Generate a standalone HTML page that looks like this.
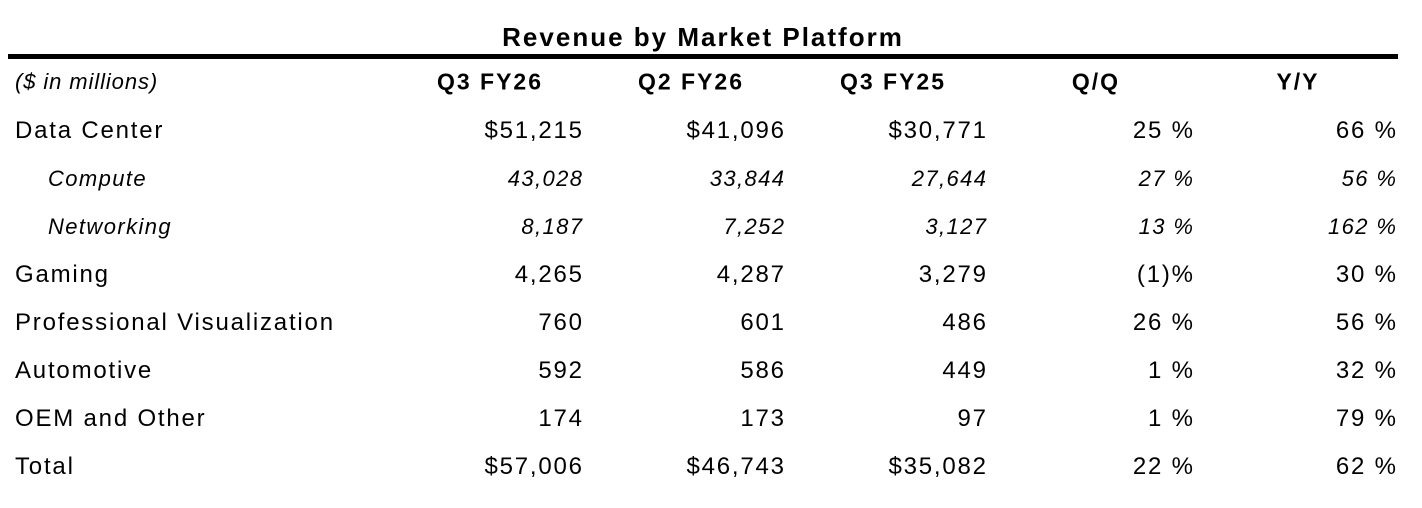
<!DOCTYPE html>
<html><head><meta charset="utf-8"><style>
body{margin:0;width:1422px;height:508px;background:#fff;font-family:"Liberation Sans",sans-serif;color:#000;position:relative;overflow:hidden}
.t{position:absolute;white-space:nowrap;line-height:1;transform:translateY(-50%)}
.r{text-align:right}
.c{text-align:center}
</style></head><body>
<div class="t c" style="left:0;width:1406px;top:37px;font-size:26px;font-weight:bold;letter-spacing:2px">Revenue by Market Platform</div>
<div style="position:absolute;left:8px;top:54px;width:1390px;height:5px;background:#000"></div>
<div id="tbl"></div>
<script>
const rowLabels=["Data Center","Compute","Networking","Gaming","Professional Visualization","Automotive","OEM and Other","Total"];
const q3fy26=["$51,215","43,028","8,187","4,265","760","592","174","$57,006"];
const q2fy26=["$41,096","33,844","7,252","4,287","601","586","173","$46,743"];
const q3fy25=["$30,771","27,644","3,127","3,279","486","449","97","$35,082"];
const qq=["25 %","27 %","13 %","(1)%","26 %","1 %","1 %","22 %"];
const yy=["66 %","56 %","162 %","30 %","56 %","32 %","79 %","62 %"];
const headers=["Q3 FY26","Q2 FY26","Q3 FY25","Q/Q","Y/Y"];
const sub=[false,true,true,false,false,false,false,false];
const colRight=[582,784,986,1193,1396];
const colCenter=[489,690,892,1095,1297];
const tbl=document.getElementById('tbl');
function mk(txt,style,cls){const d=document.createElement('div');d.className='t '+cls;d.textContent=txt;d.setAttribute('style',style);tbl.appendChild(d);return d;}
let u=mk("($ in millions)","left:15px;top:82px;font-size:22px;font-style:italic;letter-spacing:0.9px","");


headers.forEach((h,i)=>{const d=mk(h,`left:${colCenter[i]-100+1}px;width:200px;top:82px;font-size:23px;font-weight:bold;letter-spacing:2px`,'c');

});
const cols=[q3fy26,q2fy26,q3fy25,qq,yy];
rowLabels.forEach((lab,r)=>{
 const y=131+r*48;
 const ls=sub[r]?1.4:1.8;
 const fs=(sub[r]?'font-size:22px;font-style:italic':'font-size:24px')+`;letter-spacing:${ls}px`;
 const d=mk(lab,`left:${sub[r]?48:15}px;top:${y}px;${fs}`,'');
 
 
 cols.forEach((c,i)=>{const e=mk(c[r],`left:${colRight[i]-200+ls}px;width:200px;top:${y}px;${fs}`,'r');
 
 });
});
</script>
</body></html>
